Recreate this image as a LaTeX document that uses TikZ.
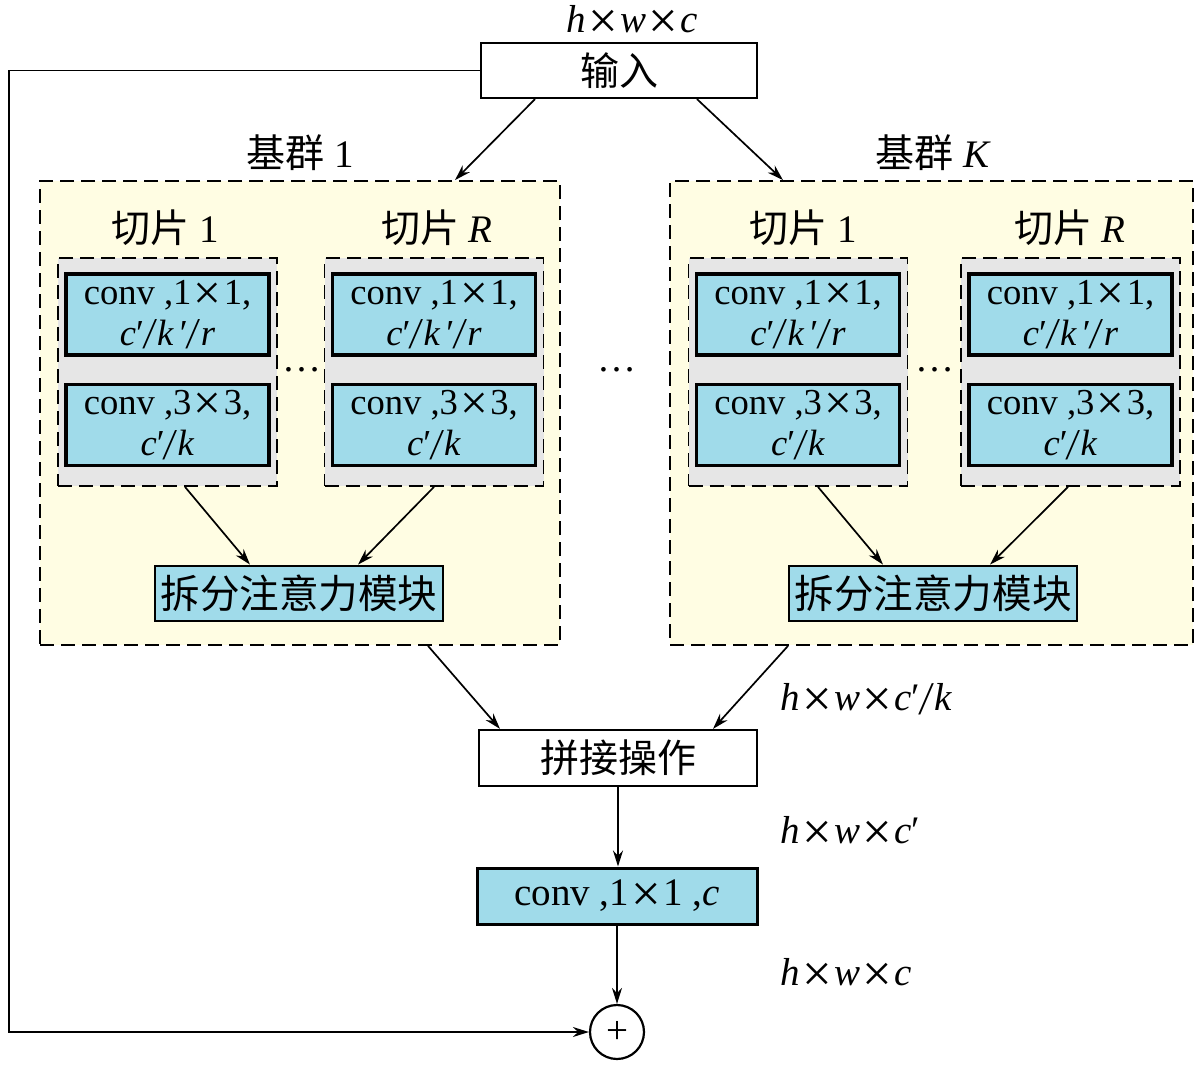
\documentclass[tikz,border=0pt]{standalone}
\usepackage{fontspec}
\usepackage{graphicx}
\setmainfont{Liberation Serif}
\newfontfamily\cjk{Noto Sans CJK SC}
\usetikzlibrary{arrows.meta}
\definecolor{grpfill}{HTML}{FFFDE3}
\definecolor{slicefill}{HTML}{E6E6E6}
\definecolor{convfill}{HTML}{A0DBEA}
\newcommand{\mi}[1]{\textit{#1}}
\newcommand{\pr}{′}
\newcommand{\X}{\hspace{0.06em}\raisebox{-0.14em}{\scalebox{1.35}{×}}\hspace{0.06em}}
\newcommand{\sL}{\raisebox{-0.1em}{\scalebox{1}[1.2]{\textit{/}}}}
\begin{document}
\begin{tikzpicture}[x=0.5pt,y=-0.5pt,
  font=\fontsize{19.5}{21}\selectfont,
  arr/.style={-{Stealth[length=8pt,width=5pt]},line width=0.85pt},
  whitebox/.style={draw,line width=1.1pt,fill=white,minimum width=138pt,minimum height=27.5pt,inner sep=0pt},
  grpbox/.style={draw,dash pattern=on 7pt off 3.5pt,line width=0.9pt,fill=grpfill,minimum height=232pt,inner sep=0pt},
  slicebox/.style={draw,dash pattern=on 7pt off 3.5pt,line width=0.9pt,fill=slicefill,minimum width=109.5pt,minimum height=114pt,inner sep=0pt},
  convbox/.style={draw,line width=1.7pt,fill=convfill,minimum width=101.5pt,minimum height=40.5pt,inner sep=0pt,align=center,font=\fontsize{18.3}{20.5}\selectfont},
  attbox/.style={draw,line width=1.4pt,fill=convfill,minimum width=144pt,minimum height=27.5pt,inner sep=0pt,font=\fontsize{19.8}{21}\selectfont\cjk},
  lbl/.style={inner sep=0pt},
]
\useasboundingbox (0,0) rectangle (1200,1071);
% labels top
\node[lbl] (topdim) at (632,22) {\mi{h}\X\mi{w}\X\mi{c}};
\node[whitebox,font=\fontsize{19.5}{21}\selectfont\cjk] (input) at (619,70.5) {输入};

% groups
\node[grpbox,minimum width=260pt] (g1) at (300,413) {};
\node[grpbox,minimum width=261.5pt] (g2) at (931.5,413) {};
\node[lbl] (g1lbl) at (300,153) {{\cjk 基群} 1};
\node[lbl] (g2lbl) at (933,153) {{\cjk 基群} \mi{K}};

% slices
\foreach \n/\x in {a/167.5,b/434,c/798,d/1070.5}{
  \node[slicebox] (s\n) at (\x,372) {};
  \node[convbox] (c1\n) at (\x,314.5) {conv ,1\X1,\\\mi{c}\pr\sL\mi{k}\,\pr\sL\mi{r}};
  \node[convbox] (c3\n) at (\x,425) {conv ,3\X3,\\\mi{c}\pr\sL\mi{k}};
}
\node[lbl] (la) at (165,228) {{\cjk 切片} 1};
\node[lbl] (lb) at (437,228) {{\cjk 切片} \mi{R}};
\node[lbl] (lc) at (803,228) {{\cjk 切片} 1};
\node[lbl] (ld) at (1070,228) {{\cjk 切片} \mi{R}};
\node[lbl] (dots1) at (302,370) {…};
\node[lbl] (dots2) at (935,370) {…};
\node[lbl] (dotsm) at (617,370) {…};

% attention
\node[attbox] (att1) at (299,593.5) {拆分注意力模块};
\node[attbox] (att2) at (933,593.5) {拆分注意力模块};

% bottom chain
\node[whitebox,minimum width=139pt,minimum height=28pt,font=\fontsize{19.5}{21}\selectfont\cjk] (cat) at (618,758) {拼接操作};
\node[draw,line width=1.5pt,fill=convfill,minimum width=140pt,minimum height=28pt,inner sep=0pt] (convc) at (617,896) {conv ,1\X1 ,\mi{c}};
\node[draw,circle,line width=1.1pt,minimum size=27pt,inner sep=0pt,fill=white] (plus) at (617,1032) {+};

\node[lbl,anchor=west] (d1) at (780,700) {\mi{h}\X\mi{w}\X\mi{c}\pr\sL\mi{k}};
\node[lbl,anchor=west] (d2) at (780,833) {\mi{h}\X\mi{w}\X\mi{c}\pr};
\node[lbl,anchor=west] (d3) at (780,975) {\mi{h}\X\mi{w}\X\mi{c}};

% arrows
\draw[arr] ([xshift=-42pt]input.south) -- ([xshift=77.5pt]g1.north);
\draw[arr] ([xshift=39pt]input.south) -- ([xshift=-74.25pt]g2.north);
\draw[arr] ([xshift=8.75pt]sa.south) -- ([xshift=-24.5pt]att1.north);
\draw[arr] (sb.south) -- ([xshift=29.5pt]att1.north);
\draw[arr] ([xshift=10pt]sc.south) -- ([xshift=-25pt]att2.north);
\draw[arr] ([xshift=-1.25pt]sd.south) -- ([xshift=28.5pt]att2.north);
\draw[arr] ([xshift=64pt]g1.south) -- ([xshift=-59pt]cat.north);
\draw[arr] ([xshift=-71.75pt]g2.south) -- ([xshift=47.5pt]cat.north);
\draw[arr] (cat.south) -- (cat.south |- convc.north);
\draw[arr] (convc.south) -- (plus.north);
\coordinate (corner) at (9,70.5);
\draw[arr] (input.west) -- (corner) |- (plus.west);
\end{tikzpicture}
\end{document}
